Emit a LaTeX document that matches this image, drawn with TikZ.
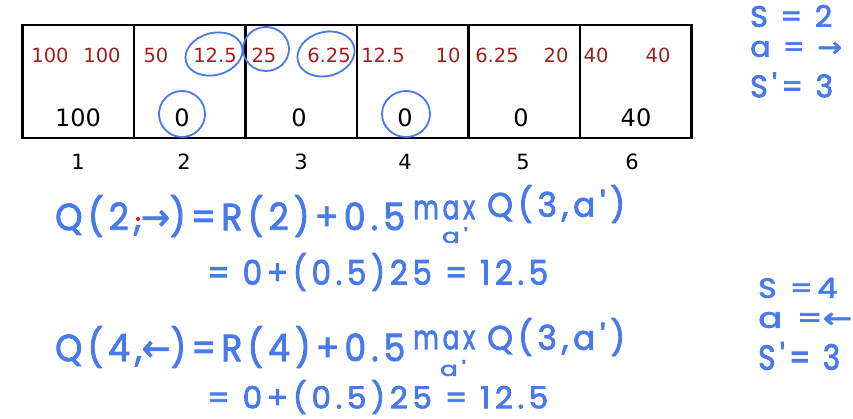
\documentclass[tikz,border=0pt]{standalone}
\usepackage{fontspec}
\usepackage{graphicx}
\setmainfont{DejaVu Sans}
\newfontfamily\hand[FakeBold=2.5,LetterSpace=15]{Poppins}
\newfontfamily\arrf[FakeBold=2]{DejaVu Sans}
\definecolor{hblue}{RGB}{72,122,235}
\definecolor{qred}{RGB}{158,32,32}
\begin{document}
\begin{tikzpicture}[x=1pt,y=-1pt,
  cell/.style={draw=black,line width=2.6pt,minimum width=111.5pt,minimum height=113pt,inner sep=0pt},
  qval/.style={text=qred,inner sep=0pt,font=\fontsize{19.5}{21}\selectfont},
  rew/.style={text=black,inner sep=0pt,font=\fontsize{24}{26}\selectfont},
  lab/.style={text=black,inner sep=0pt,font=\fontsize{21}{23}\selectfont},
  hw/.style={text=hblue,inner sep=0pt,font=\hand},
  ring/.style={draw=hblue,line width=1.8pt}]
\useasboundingbox (0,0) rectangle (853,418);
\fill[white] (0,0) rectangle (853,418);
% cells
\node[cell] (c1) at (78.3,81.5) {};
\node[cell] (c2) at (189.6,81.5) {};
\node[cell] (c3) at (301.1,81.5) {};
\node[cell] (c4) at (412.6,81.5) {};
\node[cell] (c5) at (524.1,81.5) {};
\node[cell] (c6) at (635.6,81.5) {};
% Q values
\node[qval] (q1l) at (50,55) {100};
\node[qval] (q1r) at (102,55) {100};
\node[qval] (q2l) at (156,55) {50};
\node[qval] (q2r) at (215,55) {12.5};
\node[qval] (q3l) at (264,55) {25};
\node[qval] (q3r) at (329,55) {6.25};
\node[qval] (q4l) at (383,55) {12.5};
\node[qval] (q4r) at (448,55) {10};
\node[qval] (q5l) at (497,55) {6.25};
\node[qval] (q5r) at (556,55) {20};
\node[qval] (q6l) at (596,55) {40};
\node[qval] (q6r) at (658,55) {40};
% rewards
\node[rew] (r1) at (78,118) {100};
\node[rew] (r2) at (182,118) {0};
\node[rew] (r3) at (299,118) {0};
\node[rew] (r4) at (405,118) {0};
\node[rew] (r5) at (521,118) {0};
\node[rew] (r6) at (636,118) {40};
% state labels
\node[lab] (l1) at (78,162) {1};
\node[lab] (l2) at (184,162) {2};
\node[lab] (l3) at (301,162) {3};
\node[lab] (l4) at (405,162) {4};
\node[lab] (l5) at (523,162) {5};
\node[lab] (l6) at (632,162) {6};
% circles
\draw[ring] (214,54) ellipse [x radius=29pt,y radius=21pt,rotate=15];
\draw[ring] (266,49) ellipse [x radius=23pt,y radius=22pt];
\draw[ring] (326,54) ellipse [x radius=29pt,y radius=22pt,rotate=15];
\draw[ring] (182,114) ellipse [x radius=23pt,y radius=23pt];
\draw[ring] (406,114) ellipse [x radius=24pt,y radius=23pt];
% equation 1
\node[hw,anchor=west] (e1a) at (55,216) {\resizebox*{350pt}{42pt}{Q(2,{\arrf →})=R(2)+0.5}};
\node[hw,anchor=west] (e1m) at (413,210) {\resizebox*{62pt}{19pt}{max}};
\node[hw] (e1s) at (455,235) {\resizebox*{26pt}{16pt}{a'}};
\node[hw,anchor=west] (e1b) at (487,204) {\resizebox*{138pt}{38pt}{Q(3,a')}};
\node[hw,anchor=west] (e2) at (207,272) {\resizebox*{341pt}{38pt}{= 0+(0.5)25 = 12.5}};
% equation 2
\node[hw,anchor=west] (e3a) at (55,347) {\resizebox*{350pt}{42pt}{Q(4,{\arrf ←})=R(4)+0.5}};
\node[hw,anchor=west] (e3m) at (413,340) {\resizebox*{62pt}{19pt}{max}};
\node[hw] (e3s) at (453,368) {\resizebox*{26pt}{16pt}{a'}};
\node[hw,anchor=west] (e3b) at (487,337) {\resizebox*{138pt}{38pt}{Q(3,a')}};
\node[hw,anchor=west] (e4) at (207,397) {\resizebox*{341pt}{34pt}{= 0+(0.5)25 = 12.5}};
% red dot
\fill[red] (138,219) circle (2pt);
% right side notes
\node[hw,anchor=west] (n1) at (750,16) {\resizebox*{82pt}{22pt}{S = 2}};
\node[hw,anchor=west] (n2) at (750,49) {\resizebox*{92pt}{16pt}{a = {\arrf →}}};
\node[hw,anchor=west] (n3) at (750,85) {\resizebox*{83pt}{25pt}{S'= 3}};
\node[hw,anchor=west] (n4) at (758,288) {\resizebox*{79pt}{20pt}{S =4}};
\node[hw,anchor=west] (n5) at (758,320) {\resizebox*{94pt}{16pt}{a ={\arrf ←}}};
\node[hw,anchor=west] (n6) at (758,356) {\resizebox*{82pt}{28pt}{S'= 3}};
\end{tikzpicture}
\end{document}
